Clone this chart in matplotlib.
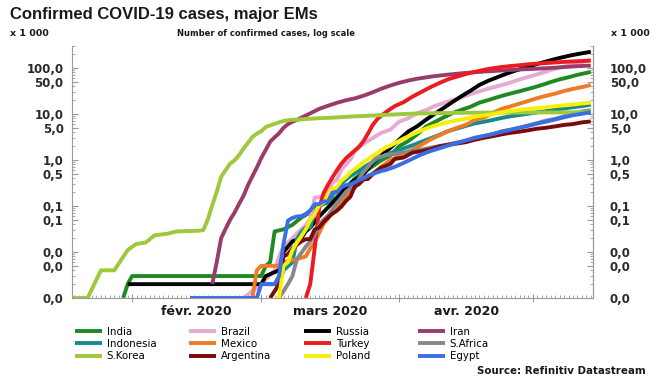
import matplotlib
matplotlib.use('Agg')
import matplotlib.pyplot as plt
import matplotlib.dates as mdates
import matplotlib.ticker as mticker
import pandas as pd

plt.rcParams['font.family'] = 'DejaVu Sans'
plt.rcParams['font.weight'] = 'bold'

# cumulative confirmed cases (raw counts), dates as MM-DD in 2020
india_days = ['01-30', '01-31', '02-01', '03-01', '03-02', '03-03', '03-04', '03-06', '03-08', '03-10',
              '03-12', '03-14', '03-16', '03-18', '03-20', '03-22', '03-24', '03-26', '03-28', '03-30',
              '04-01', '04-03', '04-05', '04-07', '04-09', '04-11', '04-13', '04-15', '04-17', '04-19',
              '04-21', '04-23', '04-25', '04-27', '04-29', '05-01', '05-03', '05-05', '05-07', '05-09',
              '05-11', '05-13', '05-14']
india_cases = [1, 2, 3, 3, 5, 6, 28, 31, 39, 56,
               73, 102, 119, 156, 244, 396, 536, 727, 987, 1251,
               1998, 2567, 3588, 5311, 6725, 8446, 10453, 12322, 14352, 17615,
               20080, 23077, 26283, 29451, 33062, 37257, 42505, 49400, 56351, 62808,
               70768, 78055, 81997]

brazil_days = ['02-26', '03-01', '03-04', '03-05', '03-06', '03-08', '03-09', '03-10', '03-11', '03-12',
               '03-13', '03-15', '03-16', '03-17', '03-18', '03-19', '03-20', '03-21', '03-22', '03-23',
               '03-24', '03-26', '03-28', '03-30', '04-01', '04-03', '04-05', '04-07', '04-09', '04-11',
               '04-13', '04-15', '04-17', '04-19', '04-21', '04-23', '04-25', '04-27', '04-29', '05-01',
               '05-03', '05-05', '05-07', '05-09', '05-11', '05-13', '05-14']
brazil_cases = [1, 2, 4, 8, 13, 20, 25, 31, 38, 52,
                151, 162, 200, 321, 372, 621, 793, 1021, 1546, 1924,
                2247, 2985, 3904, 4579, 6836, 8044, 10360, 12161, 15000, 17400,
                20000, 23000, 27000, 31000, 35500, 40000, 45000, 52000, 60000, 68000,
                78000, 90000, 102000, 114000, 127000, 142000, 150000]

russia_days = ['01-31', '03-01', '03-02', '03-05', '03-06', '03-08', '03-10', '03-11', '03-12', '03-13',
               '03-14', '03-16', '03-18', '03-20', '03-22', '03-24', '03-26', '03-28', '03-30', '04-01',
               '04-03', '04-05', '04-07', '04-09', '04-11', '04-13', '04-15', '04-17', '04-19', '04-21',
               '04-23', '04-25', '04-27', '04-29', '05-01', '05-03', '05-05', '05-07', '05-09', '05-11',
               '05-13', '05-14']
russia_cases = [2, 2, 3, 4, 10, 17, 20, 28, 34, 45,
                59, 93, 147, 253, 367, 495, 840, 1264, 1836, 2777,
                4149, 5389, 7497, 10131, 13584, 18328, 24490, 32008, 42853, 52763,
                62773, 74588, 87147, 99399, 114431, 130000, 147000, 165000, 183000, 200000,
                216000, 224000]

iran_days = ['02-19', '02-20', '02-21', '02-22', '02-23', '02-24', '02-25', '02-26', '02-27', '02-28',
             '02-29', '03-01', '03-02', '03-03', '03-04', '03-05', '03-06', '03-07', '03-08', '03-09',
             '03-10', '03-12', '03-14', '03-16', '03-18', '03-20', '03-22', '03-24', '03-26', '03-28',
             '03-30', '04-01', '04-03', '04-05', '04-08', '04-11', '04-14', '04-17', '04-20', '04-23',
             '04-26', '04-29', '05-02', '05-05', '05-08', '05-11', '05-14']
iran_cases = [2, 6, 20, 32, 50, 72, 110, 165, 280, 440,
              680, 1100, 1650, 2500, 3100, 3800, 5000, 6000, 6800, 7400,
              8300, 10300, 12900, 15100, 17500, 19800, 21800, 25000, 29500, 35500,
              41500, 47600, 53200, 58200, 64600, 70000, 74900, 79500, 83500, 87000,
              90500, 93700, 96400, 100000, 104700, 109300, 112700]

indonesia_days = ['03-02', '03-05', '03-06', '03-08', '03-09', '03-10', '03-11', '03-12', '03-13', '03-14',
                  '03-15', '03-16', '03-17', '03-18', '03-19', '03-20', '03-21', '03-22', '03-23', '03-24',
                  '03-25', '03-26', '03-27', '03-28', '03-29', '03-30', '03-31', '04-02', '04-04', '04-06',
                  '04-08', '04-10', '04-12', '04-14', '04-16', '04-18', '04-20', '04-22', '04-24', '04-26',
                  '04-28', '04-30', '05-02', '05-04', '05-06', '05-08', '05-10', '05-12', '05-14']
indonesia_cases = [2, 2, 4, 6, 19, 27, 34, 34, 69, 96,
                   117, 134, 172, 227, 311, 369, 450, 514, 579, 686,
                   790, 893, 1046, 1155, 1285, 1414, 1528, 1790, 2092, 2491,
                   2956, 3512, 4241, 4839, 5516, 6248, 6760, 7418, 8211, 8882,
                   9511, 10118, 10843, 11587, 12438, 13112, 14032, 14749, 16006]

mexico_days = ['02-28', '02-29', '03-01', '03-05', '03-06', '03-09', '03-11', '03-12', '03-13', '03-14',
               '03-15', '03-16', '03-17', '03-18', '03-19', '03-20', '03-21', '03-22', '03-23', '03-24',
               '03-25', '03-26', '03-27', '03-28', '03-29', '03-30', '03-31', '04-02', '04-04', '04-06',
               '04-08', '04-10', '04-12', '04-14', '04-16', '04-18', '04-20', '04-22', '04-24', '04-26',
               '04-28', '04-30', '05-02', '05-04', '05-06', '05-08', '05-10', '05-12', '05-14']
mexico_cases = [1, 4, 5, 5, 6, 7, 8, 12, 16, 26,
                41, 53, 82, 93, 118, 164, 203, 251, 316, 367,
                405, 475, 585, 717, 848, 993, 1094, 1378, 1688, 2143,
                2785, 3441, 4219, 5014, 5847, 7497, 8261, 10544, 12872, 14677,
                16752, 19224, 22088, 24905, 27634, 31522, 35022, 38324, 42595]

turkey_days = ['03-11', '03-12', '03-13', '03-14', '03-15', '03-16', '03-17', '03-18', '03-19', '03-20',
               '03-21', '03-22', '03-23', '03-24', '03-25', '03-26', '03-27', '03-28', '03-29', '03-30',
               '03-31', '04-02', '04-04', '04-06', '04-08', '04-10', '04-12', '04-14', '04-16', '04-18',
               '04-20', '04-22', '04-24', '04-26', '04-28', '04-30', '05-02', '05-04', '05-06', '05-08',
               '05-10', '05-12', '05-14']
turkey_cases = [1, 2, 12, 90, 190, 290, 420, 600, 830, 1080,
                1320, 1600, 1950, 2600, 3800, 5700, 7600, 9300, 10900, 12800,
                14800, 18135, 23934, 30217, 38226, 47029, 56956, 65111, 74193, 82329,
                90980, 98674, 104912, 110130, 114653, 120204, 124375, 127659, 131744, 135569,
                138657, 141475, 144749]

safrica_days = ['03-05', '03-07', '03-08', '03-09', '03-11', '03-12', '03-13', '03-14', '03-15', '03-16',
                '03-17', '03-18', '03-19', '03-20', '03-21', '03-22', '03-23', '03-24', '03-25', '03-26',
                '03-27', '03-28', '03-29', '03-31', '04-02', '04-04', '04-06', '04-08', '04-10', '04-12',
                '04-14', '04-16', '04-18', '04-20', '04-22', '04-24', '04-26', '04-28', '04-30', '05-02',
                '05-04', '05-06', '05-08', '05-10', '05-12', '05-14']
safrica_cases = [1, 2, 3, 7, 13, 17, 24, 38, 51, 62,
                 85, 116, 150, 202, 240, 274, 402, 554, 709, 927,
                 1170, 1187, 1280, 1353, 1462, 1585, 1686, 1845, 2003, 2173,
                 2415, 2605, 3034, 3300, 3635, 4220, 4546, 4996, 5647, 6336,
                 7220, 7808, 8895, 10015, 11350, 12074]

korea_days = ['01-18', '01-22', '01-25', '01-28', '01-31', '02-01', '02-02', '02-04', '02-05', '02-06',
              '02-09', '02-11', '02-16', '02-17', '02-18', '02-19', '02-20', '02-21', '02-22', '02-23',
              '02-24', '02-25', '02-26', '02-27', '02-28', '02-29', '03-01', '03-02', '03-03', '03-04',
              '03-05', '03-06', '03-07', '03-08', '03-09', '03-12', '03-14', '03-16', '03-18', '03-20',
              '03-22', '03-24', '03-26', '03-28', '03-30', '04-01', '04-03', '04-05', '04-08', '04-11',
              '04-14', '04-17', '04-20', '04-24', '04-28', '05-02', '05-06', '05-10', '05-14']
korea_cases = [1, 1, 4, 4, 11, 13, 15, 16, 19, 23,
               25, 28, 29, 30, 51, 104, 204, 433, 602, 833,
               977, 1261, 1766, 2337, 3150, 3736, 4212, 5186, 5621, 6088,
               6593, 7041, 7314, 7478, 7513, 7869, 8086, 8236, 8413, 8652,
               8897, 9037, 9241, 9478, 9661, 9887, 10062, 10237, 10384, 10480,
               10564, 10635, 10674, 10718, 10752, 10793, 10806, 10874, 10991]

argentina_days = ['03-03', '03-05', '03-06', '03-07', '03-08', '03-10', '03-11', '03-12', '03-13', '03-14',
                  '03-15', '03-16', '03-17', '03-18', '03-19', '03-20', '03-21', '03-22', '03-23', '03-24',
                  '03-25', '03-26', '03-27', '03-28', '03-29', '03-30', '03-31', '04-02', '04-04', '04-06',
                  '04-08', '04-10', '04-12', '04-14', '04-16', '04-18', '04-20', '04-22', '04-24', '04-26',
                  '04-28', '04-30', '05-02', '05-04', '05-06', '05-08', '05-10', '05-12', '05-14']
argentina_cases = [1, 2, 8, 9, 12, 17, 19, 19, 31, 34,
                   45, 56, 68, 79, 97, 128, 158, 266, 301, 387,
                   387, 502, 589, 690, 745, 820, 1054, 1133, 1451, 1554,
                   1715, 1975, 2142, 2277, 2443, 2758, 3031, 3288, 3607, 3892,
                   4127, 4428, 4783, 5020, 5371, 5776, 6034, 6563, 6879]

poland_days = ['03-04', '03-05', '03-06', '03-07', '03-08', '03-09', '03-10', '03-11', '03-12', '03-13',
               '03-14', '03-15', '03-16', '03-17', '03-18', '03-19', '03-20', '03-21', '03-22', '03-23',
               '03-24', '03-25', '03-26', '03-27', '03-28', '03-29', '03-30', '03-31', '04-02', '04-04',
               '04-06', '04-08', '04-10', '04-12', '04-14', '04-16', '04-18', '04-20', '04-22', '04-24',
               '04-26', '04-28', '04-30', '05-02', '05-04', '05-06', '05-08', '05-10', '05-12', '05-14']
poland_cases = [1, 1, 5, 6, 11, 16, 22, 31, 49, 68,
                103, 119, 177, 238, 251, 355, 425, 536, 634, 749,
                901, 1051, 1221, 1389, 1638, 1862, 2055, 2311, 2946, 3627,
                4413, 5205, 5955, 6674, 7202, 7918, 8742, 9287, 9856, 10892,
                11617, 12218, 12877, 13375, 14006, 14740, 15366, 15996, 16921, 17615]

egypt_days = ['02-14', '02-29', '03-01', '03-04', '03-05', '03-06', '03-07', '03-08', '03-09', '03-10',
              '03-11', '03-12', '03-13', '03-14', '03-15', '03-16', '03-17', '03-18', '03-19', '03-20',
              '03-21', '03-22', '03-23', '03-24', '03-25', '03-26', '03-27', '03-28', '03-29', '03-30',
              '03-31', '04-02', '04-04', '04-06', '04-08', '04-10', '04-12', '04-14', '04-16', '04-18',
              '04-20', '04-22', '04-24', '04-26', '04-28', '04-30', '05-02', '05-04', '05-06', '05-08',
              '05-10', '05-12', '05-14']
egypt_cases = [1, 1, 2, 2, 3, 15, 48, 55, 59, 60,
               67, 80, 109, 110, 126, 126, 196, 196, 256, 285,
               294, 327, 366, 402, 456, 495, 536, 576, 609, 656,
               710, 865, 1070, 1322, 1560, 1794, 2065, 2350, 2673, 3032,
               3333, 3659, 4092, 4534, 5042, 5537, 6193, 6813, 7588, 8476,
               9400, 10093, 10829]

series = [
    ('India', india_days, india_cases, '#1f8a22'),
    ('Brazil', brazil_days, brazil_cases, '#e6a9d3'),
    ('Russia', russia_days, russia_cases, '#000000'),
    ('Iran', iran_days, iran_cases, '#993c6c'),
    ('Indonesia', indonesia_days, indonesia_cases, '#178b8b'),
    ('Mexico', mexico_days, mexico_cases, '#f07a26'),
    ('Turkey', turkey_days, turkey_cases, '#ec1b1f'),
    ('S.Africa', safrica_days, safrica_cases, '#888888'),
    ('S.Korea', korea_days, korea_cases, '#9dc93a'),
    ('Argentina', argentina_days, argentina_cases, '#7a0b0d'),
    ('Poland', poland_days, poland_cases, '#f6ef0a'),
    ('Egypt', egypt_days, egypt_cases, '#3b6ee4'),
]

legend_cols = [['India', 'Indonesia', 'S.Korea'],
               ['Brazil', 'Mexico', 'Argentina'],
               ['Russia', 'Turkey', 'Poland'],
               ['Iran', 'S.Africa', 'Egypt']]

ytick_vals = [0.001, 0.005, 0.01, 0.05, 0.1, 0.5, 1, 5, 10, 50, 100]
month_starts = ['2020-02-01', '2020-03-01', '2020-04-01']
month_labels = ['févr. 2020', 'mars 2020', 'avr. 2020']

W, H = 659, 378
fig = plt.figure(figsize=(W / 100, H / 100), dpi=100)
ax = fig.add_axes([72 / W, 1 - 298 / H, (593 - 72) / W, (298 - 46) / H])

lines = {}
for name, days, cases, color in series:
    x = pd.to_datetime(['2020-' + d for d in days])
    y = [c / 1000 for c in cases]
    ln, = ax.plot(x, y, color=color, lw=2.8, label=name,
                  solid_joinstyle='round', solid_capstyle='butt')
    lines[name] = ln

ax.set_yscale('log')
ax.set_ylim(0.001, 300)
ax.set_xlim(pd.Timestamp('2020-01-18 12:00'), pd.Timestamp('2020-05-14 12:00'))

fmt = mticker.FuncFormatter(lambda v, p: f'{v:.1f}'.replace('.', ','))
ax.set_yticks(ytick_vals)
ax.yaxis.set_major_formatter(fmt)
ax.yaxis.set_minor_locator(mticker.LogLocator(base=10, subs=range(2, 10), numticks=20))
ax.yaxis.set_minor_formatter(mticker.NullFormatter())
ax.tick_params(axis='y', which='both', direction='in', left=True, right=True,
               color='#999999', labelcolor='#2a2a2a', labelsize=8.5, pad=6)
ax.tick_params(axis='y', which='major', length=4, width=0.8)
ax.tick_params(axis='y', which='minor', length=2, width=0.6)

# right-hand scale, same values, labels set a little further out
ax_r = ax.secondary_yaxis('right')
ax_r.set_yticks(ytick_vals)
ax_r.yaxis.set_major_formatter(fmt)
ax_r.yaxis.set_minor_locator(mticker.NullLocator())
ax_r.tick_params(axis='y', which='major', direction='in', length=0,
                 labelcolor='#2a2a2a', labelsize=8.5, pad=12)
ax_r.spines['right'].set_color('#9a9a9a')
ax_r.spines['right'].set_linewidth(0.8)

ax.xaxis.set_major_locator(mdates.MonthLocator())
ax.xaxis.set_major_formatter(mticker.NullFormatter())
ax.xaxis.set_minor_locator(mdates.DayLocator())
ax.tick_params(axis='x', which='major', direction='inout', length=6, width=0.8, color='#999999')
ax.tick_params(axis='x', which='minor', direction='in', length=2, width=0.6, color='#999999')

for start, lab in zip(month_starts, month_labels):
    s = pd.Timestamp(start)
    mid = s + (s + pd.offsets.MonthBegin(1) - s) / 2
    ax.text(mdates.date2num(mid), -0.052, lab, transform=ax.get_xaxis_transform(),
            ha='center', va='center', fontsize=9, color='#1a1a1a')

ax.spines['top'].set_visible(False)
for side in ['left', 'right', 'bottom']:
    ax.spines[side].set_color('#9a9a9a')
    ax.spines[side].set_linewidth(0.8)

fig.text(10 / W, 1 - 7 / H, 'Confirmed COVID-19 cases, major EMs', family='Liberation Sans',
         fontsize=12, weight='bold', va='top', color='#1a1a1a')
fig.text(10 / W, 1 - 33 / H, 'x 1 000', fontsize=6.8, va='center', color='#1a1a1a')
fig.text(650 / W, 1 - 33 / H, 'x 1 000', fontsize=6.8, va='center', ha='right', color='#1a1a1a')
fig.text(266 / W, 1 - 34 / H, 'Number of confirmed cases, log scale', fontsize=6.0,
         va='center', ha='center', color='#1a1a1a')

col_x = [75, 189, 304, 418]
for names, x in zip(legend_cols, col_x):
    fig.legend([lines[n] for n in names], names, loc='upper left',
               bbox_to_anchor=(x / W, 1 - 327 / H), frameon=False, borderpad=0,
               borderaxespad=0, handlelength=2.6, handletextpad=0.5, labelspacing=0.2,
               prop={'size': 7.4, 'weight': 'normal'})

fig.text(646 / W, 1 - 371 / H, 'Source: Refinitiv Datastream', fontsize=7.4,
         ha='right', va='center', color='#1a1a1a')

fig.savefig('out.png', dpi=100)
